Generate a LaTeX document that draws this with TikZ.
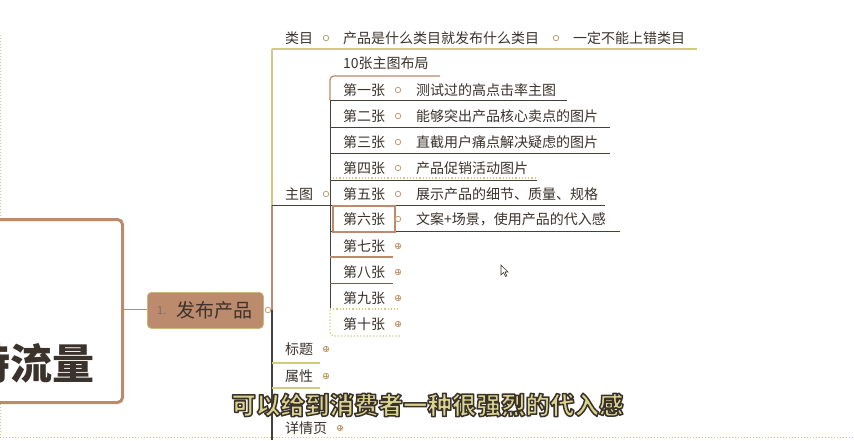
\documentclass[tikz,border=0pt]{standalone}
\usepackage{fontspec}
\newfontfamily\cjk{Noto Sans CJK SC}
\definecolor{brn}{HTML}{BC8A6C}
\definecolor{txt}{HTML}{3A322B}
\definecolor{ylw}{HTML}{D2CB7E}
\definecolor{dk}{HTML}{45403A}
\definecolor{sub}{HTML}{D9D38F}
\newcommand{\outlined}[1]{\special{pdf:code 2 Tr 1.5 w 0.227 0.196 0.169 RG 1 j}#1\special{pdf:code 0 Tr}}
\tikzset{
 t/.style={font=\cjk\fontsize{14}{14}\selectfont, text=txt, inner sep=0pt, anchor=west},
 ulk/.style={draw=dk, line width=1pt},
 uly/.style={draw=ylw, line width=1.2pt},
 ulb/.style={draw=brn, line width=1.2pt},
 uld/.style={draw=ylw, line width=1.2pt, dotted},
 opn/.style={circle, draw=brn!70!ylw, fill=white, line width=0.8pt, minimum size=5.5pt, inner sep=0pt},
 cls/.style={opn, path picture={\draw[brn!70!ylw, line width=0.6pt] (path picture bounding box.west) -- (path picture bounding box.east) (path picture bounding box.north) -- (path picture bounding box.south);}},
}
\begin{document}
\begin{tikzpicture}[x=1pt,y=-1pt]
\useasboundingbox (0,0) rectangle (854,440);
\fill[white] (0,0) rectangle (854,440);
% page edges
\draw[ylw, dotted, line width=1pt] (0.5,35) -- (0.5,437);
\draw[ylw, dotted, line width=1pt] (0,437.5) -- (854,437.5);
% central topic
\node[draw=brn, line width=3pt, rounded corners=5pt, fill=white, minimum width=160pt, minimum height=183pt, anchor=north east, inner sep=0pt] (root) at (124,218) {};
\node[font=\cjk\bfseries\fontsize{42}{42}\selectfont, text=txt, anchor=east, inner sep=0pt] (roottxt) at (95,363) {特流量};
% main topic
\node[fill=brn, draw=ylw!70!brn, line width=0.8pt, rounded corners=4pt, minimum width=116pt, minimum height=36pt, anchor=north west, inner sep=0pt] (pub) at (147,292) {};
\node[font=\cjk\fontsize{11}{11}\selectfont, text=txt!70, anchor=west, inner sep=0pt] (pubnum) at (157,311) {1.};
\node[font=\cjk\fontsize{19}{19}\selectfont, text=txt, anchor=west, inner sep=0pt] (pubtxt) at (176,310) {发布产品};
\draw[brn, line width=1pt] (root.east |- 0,309) -- (pub.west |- 0,309);
\coordinate (trunkTop) at (272,49);
\coordinate (trunkMid) at (272,205);
\coordinate (trunkC) at (272,310);
\coordinate (trunkBot) at (272,440);
\draw[uly] (trunkTop) -- (trunkMid);
\draw[brn, line width=1.2pt] (trunkMid) -- (trunkC);
\draw[dk, line width=1.2pt] (trunkC) -- (trunkBot);
\node[opn] (pubc) at (268,310) {};
% 类目 row
\draw[uly] (272,49) -- (697,49);
\node[t] (lm) at (285,38) {类目};
\node[opn] (lmc) at (326,38) {};
\node[t] (lm1) at (343,38) {产品是什么类目就发布什么类目};
\node[opn] (lm1c) at (556,38) {};
\node[t] (lm2) at (573,38) {一定不能上错类目};
% 主图
\draw[ulk] (272,205) -- (330,205);
\node[t] (zt) at (285,194) {主图};
\node[opn] (ztc) at (326,194) {};
% children trunk
\draw[ulb, rounded corners=4pt] (440,76) -- (330,76) -- (330,100);
\draw[dk, line width=1pt] (330,100) -- (330,310);
\draw[uld, rounded corners=4pt] (330,310) -- (330,336) -- (400,336);
\node[t] (z0) at (343,63) {10张主图布局};
% rows
\draw[ulk] (330,100) -- (567,100);
\node[t] (z1) at (343,90) {第一张};
\node[opn] (z1c) at (398,90) {};
\node[t] (z1a) at (416,90) {测试过的高点击率主图};
\draw[ulk] (330,127) -- (610,127);
\node[t] (z2) at (343,116) {第二张};
\node[opn] (z2c) at (398,116) {};
\node[t] (z2a) at (416,116) {能够突出产品核心卖点的图片};
\draw[ulk] (330,153) -- (610,153);
\node[t] (z3) at (343,142) {第三张};
\node[opn] (z3c) at (398,142) {};
\node[t] (z3a) at (416,142) {直截用户痛点解决疑虑的图片};
\draw[uld] (333,178) -- (537,178);
\draw[ulk] (330,180) -- (537,180);
\node[t] (z4) at (343,168) {第四张};
\node[opn] (z4c) at (398,168) {};
\node[t] (z4a) at (416,168) {产品促销活动图片};
\draw[ulk] (330,205) -- (605,205);
\node[t] (z5) at (343,194) {第五张};
\node[opn] (z5c) at (398,194) {};
\node[t] (z5a) at (416,194) {展示产品的细节、质量、规格};
\draw[ulk] (330,231) -- (620,231);
\node[t] (z6) at (343,219) {第六张};
\node[draw=brn, line width=1.5pt, minimum width=62pt, minimum height=26pt, inner sep=0pt] (z6box) at (364,219) {};
\node[opn] (z6c) at (398,219) {};
\node[t] (z6a) at (416,219) {文案+场景，使用产品的代入感};
\draw[ulb] (330,257) -- (393,257);
\node[t] (z7) at (343,246) {第七张};
\node[cls] (z7c) at (398,246) {};
\draw[draw=dk!60!brn, line width=1pt] (330,283) -- (393,283);
\node[t] (z8) at (343,272) {第八张};
\node[cls] (z8c) at (398,272) {};
\draw[uld] (330,309) -- (400,309);
\node[t] (z9) at (343,298) {第九张};
\node[cls] (z9c) at (398,298) {};
\node[t] (z10) at (343,324) {第十张};
\node[cls] (z10c) at (398,324) {};
% 标题 属性 详情页
\draw[uly] (272,363) -- (320,363);
\node[t] (bt) at (285,349) {标题};
\node[cls] (btc) at (326,349) {};
\draw[uly] (272,388) -- (320,388);
\node[t] (sx) at (285,376) {属性};
\node[cls] (sxc) at (326,376) {};
\node[t] (xq) at (285,428) {详情页};
\node[cls] (xqc) at (340,428) {};
% cursor
\filldraw[fill=white, draw=txt, line width=0.6pt] (501,265) -- (501,275) -- (503.5,272.5) -- (505.5,276.5) -- (506.8,275.8) -- (505,272) -- (508,272) -- cycle;
% subtitle
\node[font=\cjk\bfseries\fontsize{24.5}{24.5}\selectfont, text=sub, inner sep=0pt] (subt) at (427.5,405) {\outlined{可以给到消费者一种很强烈的代入感}};
\end{tikzpicture}
\end{document}
